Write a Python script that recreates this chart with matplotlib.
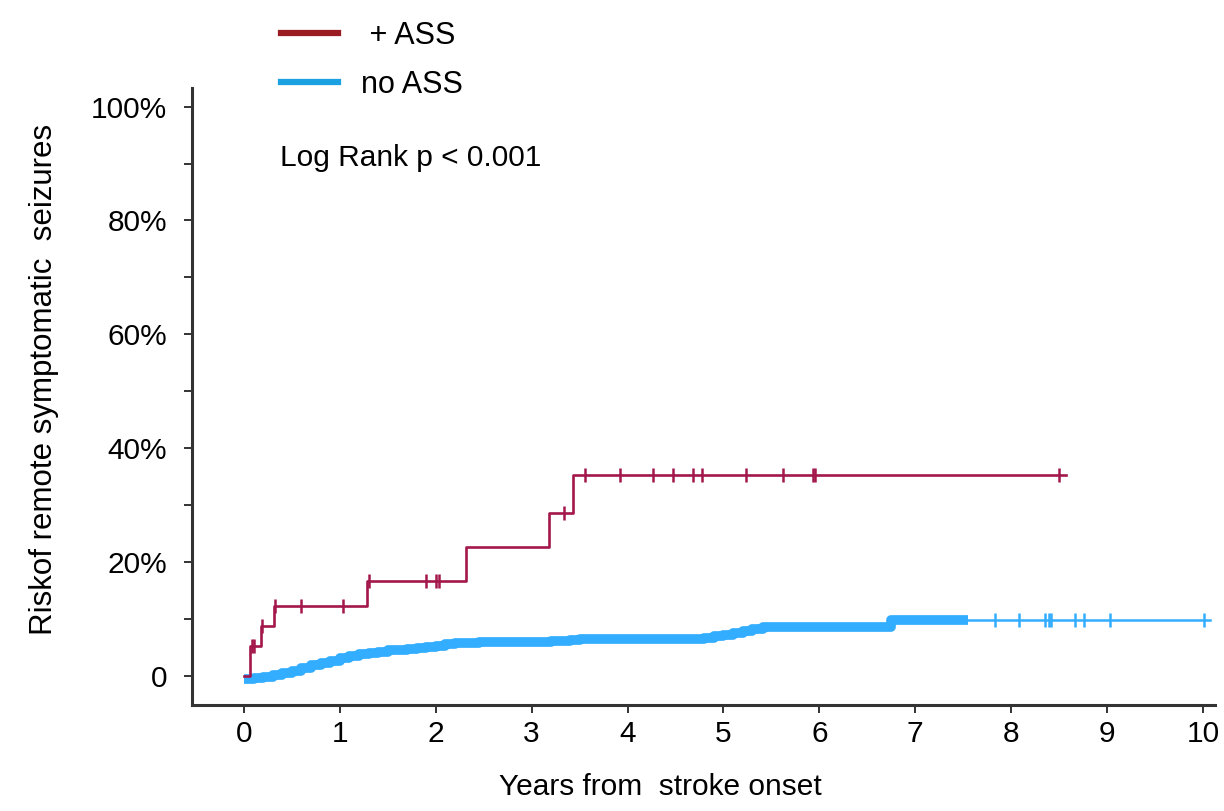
import numpy as np
import matplotlib.pyplot as plt
from matplotlib.lines import Line2D

plt.rcParams['font.family'] = ['Liberation Sans', 'DejaVu Sans']

# + ASS group: step times (years) and cumulative risk (%)
ass_times = [0.0, 0.06, 0.18, 0.31, 1.28, 2.32, 3.18, 3.43, 8.57]
ass_risk = [0.0, 5.3, 8.8, 12.3, 16.7, 22.7, 28.6, 35.2, 35.2]
ass_censor = [0.08, 0.10, 0.19, 0.32, 0.60, 1.03, 1.30, 1.90, 2.00, 2.03, 3.34,
              3.56, 3.92, 4.27, 4.47, 4.68, 4.78, 5.24, 5.62, 5.93, 5.95, 8.50]

# no ASS group
noass_times = [0.0, 0.1, 0.2, 0.3, 0.4, 0.5, 0.6, 0.7, 0.8, 0.9, 1.0, 1.1, 1.2,
               1.3, 1.4, 1.5, 1.6, 1.7, 1.8, 1.9, 2.0, 2.1, 2.2, 2.3, 2.45, 2.8,
               3.0, 3.2, 3.4, 3.5, 4.6, 4.8, 4.9, 5.0, 5.1, 5.2, 5.3, 5.41,
               6.75, 7.55, 10.07]
noass_risk = [-0.6, -0.4, -0.2, 0.1, 0.45, 0.85, 1.3, 1.8, 2.2, 2.6, 3.1, 3.5, 3.8,
              4.0, 4.25, 4.45, 4.6, 4.75, 4.9, 5.1, 5.3, 5.55, 5.7, 5.8, 5.9, 5.85,
              5.95, 6.05, 6.3, 6.4, 6.4, 6.7, 6.9, 7.2, 7.5, 7.85, 8.2, 8.5,
              9.8, 9.8, 9.8]
noass_dense_end = 7.55  # censor marks are so dense up to here they form a band
noass_censor = [7.83, 8.08, 8.35, 8.39, 8.42, 8.67, 8.76, 9.03, 10.01]

x_ticks = list(range(0, 11))
y_ticks = [0, 20, 40, 60, 80, 100]
y_labels = ['0', '20%', '40%', '60%', '80%', '100%']

red = '#A3174B'
blue = '#33ADFF'


def step_value(times, values, t):
    i = np.searchsorted(times, t, side='right') - 1
    return values[i]


fig = plt.figure(figsize=(12.24, 8.11), dpi=100)
ax = fig.add_axes([0.157, 0.131, 0.836, 0.760])

# no ASS curve
t = np.array(noass_times)
r = np.array(noass_risk)
dense = t <= noass_dense_end
sparse = t >= noass_dense_end
ax.step(t[dense], r[dense], where='post', color=blue, lw=7, solid_capstyle='butt')
ax.step(t[sparse], r[sparse], where='post', color=blue, lw=1.8)
ax.plot(noass_censor, [step_value(t, r, c) for c in noass_censor], ls='none',
        marker='|', ms=10, mew=1.8, color=blue)

# + ASS curve
ax.step(ass_times, ass_risk, where='post', color=red, lw=1.9)
ax.plot(ass_censor, [step_value(np.array(ass_times), ass_risk, c) for c in ass_censor],
        ls='none', marker='|', ms=10, mew=1.8, color=red)

ax.set_xlim(-0.54, 10.13)
ax.set_ylim(-5.1, 103.2)
ax.set_xticks(x_ticks)
ax.set_yticks(y_ticks)
ax.set_yticklabels(y_labels)
ax.set_yticks(np.arange(10, 100, 20), minor=True)
ax.tick_params(axis='both', labelsize=21.5, color='#333333', width=1.4, length=6)
ax.tick_params(axis='y', which='minor', color='#333333', width=1.4, length=6)
ax.tick_params(axis='y', pad=12)
ax.tick_params(axis='x', pad=5)

for side in ['top', 'right']:
    ax.spines[side].set_visible(False)
for side in ['left', 'bottom']:
    ax.spines[side].set_color('#333333')
    ax.spines[side].set_linewidth(2.2)

ax.set_xlabel('Years from  stroke onset', fontsize=21.5)
ax.xaxis.set_label_coords(0.458, -0.110)
ax.set_ylabel('Riskof remote symptomatic  seizures', fontsize=22.5)
ax.yaxis.set_label_coords(-0.130, 0.527)

ax.text(0.375, 90.9, 'Log Rank p < 0.001', fontsize=21.5, ha='left', va='center')

handles = [Line2D([], [], color='#9B1B22', lw=4.5),
           Line2D([], [], color='#1BA1E2', lw=4.5)]
fig.legend(handles, [' + ASS', 'no ASS'], loc='upper left',
           bbox_to_anchor=(0.207, 1.008), frameon=False, fontsize=22,
           handlelength=1.86, handletextpad=0.75, labelspacing=0.62)

fig.savefig('out.png', dpi=100)
